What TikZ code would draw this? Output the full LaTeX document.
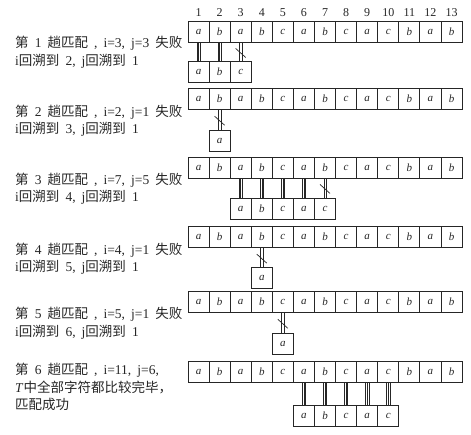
\documentclass[tikz,border=0pt]{standalone}
\usepackage{fontspec}
\setmainfont{Liberation Serif}[WordSpace=1.8]
\newfontfamily\cjk{Noto Sans CJK SC}
\usetikzlibrary{calc}
\definecolor{ink}{HTML}{262626}
\newcommand{\zh}[1]{{\cjk #1}}
\tikzset{
  cell/.style={draw=ink, line width=0.8pt, minimum width=21.08pt, minimum height=21pt,
               inner sep=0pt, font=\fontsize{11}{11}\selectfont\itshape, text=ink},
  idx/.style={font=\fontsize{12}{12}\selectfont, text=ink, inner sep=0pt},
  note/.style={font=\fontsize{13.5}{17.5}\selectfont, text=ink, align=left, anchor=west, inner sep=0pt},
  link/.style={draw=ink, line width=0.5pt}
}
% pattern T of pass #1 at height #2, starting under column #3
\newcommand{\patrow}[4]{%
  \foreach \c [count=\k, evaluate=\k as \col using int(#3+\k-1)] in {#4}
    \node[cell] (p#1-\col) at ({188+21.08*(\col-0.5)},#2) {\c};}
% matched pair: three thin lines; mismatch: two lines crossed by a slash
\newcommand{\hit}[2]{%
  \foreach \d in {-1.6,0,1.6}
    \draw[link] ([xshift=\d pt]#1.south) -- ([xshift=\d pt]#2.north);}
\newcommand{\miss}[2]{%
  \foreach \d in {-1.2,1.2}
    \draw[link] ([xshift=\d pt]#1.south) -- ([xshift=\d pt]#2.north);
  \draw[link, line width=0.7pt] ($(#1.south)!0.55!(#2.north)+(-5,-4.5)$) -- ++(10,9);}

\begin{document}
\begin{tikzpicture}[x=1pt,y=-1pt]
  \useasboundingbox (0,0) rectangle (471,434);
  % column numbers
  \foreach \k in {1,...,13}
    \node[idx] (n\k) at ({188+21.08*(\k-0.5)},13) {\k};
  % main string S, one copy per pass
  \foreach \r/\y in {1/32.2, 2/99, 3/167.5, 4/237.2, 5/302.2, 6/372.2}
    \foreach \c [count=\k] in {a,b,a,b,c,a,b,c,a,c,b,a,b}
      \node[cell] (s\r-\k) at ({188+21.08*(\k-0.5)},\y) {\c};
  % pattern T, shifted under S
  \patrow{1}{72}{1}{a,b,c}
  \patrow{2}{140.5}{2}{a}
  \patrow{3}{208.5}{3}{a,b,c,a,c}
  \patrow{4}{278.2}{4}{a}
  \patrow{5}{343.5}{5}{a}
  \patrow{6}{415.5}{6}{a,b,c,a,c}
  % comparisons
  \hit{s1-1}{p1-1} \hit{s1-2}{p1-2} \miss{s1-3}{p1-3}
  \miss{s2-2}{p2-2}
  \foreach \k in {3,...,6} {\hit{s3-\k}{p3-\k}}
  \miss{s3-7}{p3-7}
  \miss{s4-4}{p4-4}
  \miss{s5-5}{p5-5}
  \foreach \k in {6,...,10} {\hit{s6-\k}{p6-\k}}
  % notes
  \node[note] (t1) at (15,52.3) {\zh{第} 1 \zh{趟匹配} , i=3, j=3 \zh{失败}\\i\zh{回溯到} 2, j\zh{回溯到} 1};
  \node[note] (t2) at (15,120.5) {\zh{第} 2 \zh{趟匹配} , i=2, j=1 \zh{失败}\\i\zh{回溯到} 3, j\zh{回溯到} 1};
  \node[note] (t3) at (15,188.5) {\zh{第} 3 \zh{趟匹配} , i=7, j=5 \zh{失败}\\i\zh{回溯到} 4, j\zh{回溯到} 1};
  \node[note] (t4) at (15,258.5) {\zh{第} 4 \zh{趟匹配} , i=4, j=1 \zh{失败}\\i\zh{回溯到} 5, j\zh{回溯到} 1};
  \node[note] (t5) at (15,323) {\zh{第} 5 \zh{趟匹配} , i=5, j=1 \zh{失败}\\i\zh{回溯到} 6, j\zh{回溯到} 1};
  \node[note] (t6) at (15,387) {\zh{第} 6 \zh{趟匹配} , i=11, j=6,\\\textit{T}\zh{中全部字符都比较完毕，}\\\zh{匹配成功}};
\end{tikzpicture}
\end{document}
